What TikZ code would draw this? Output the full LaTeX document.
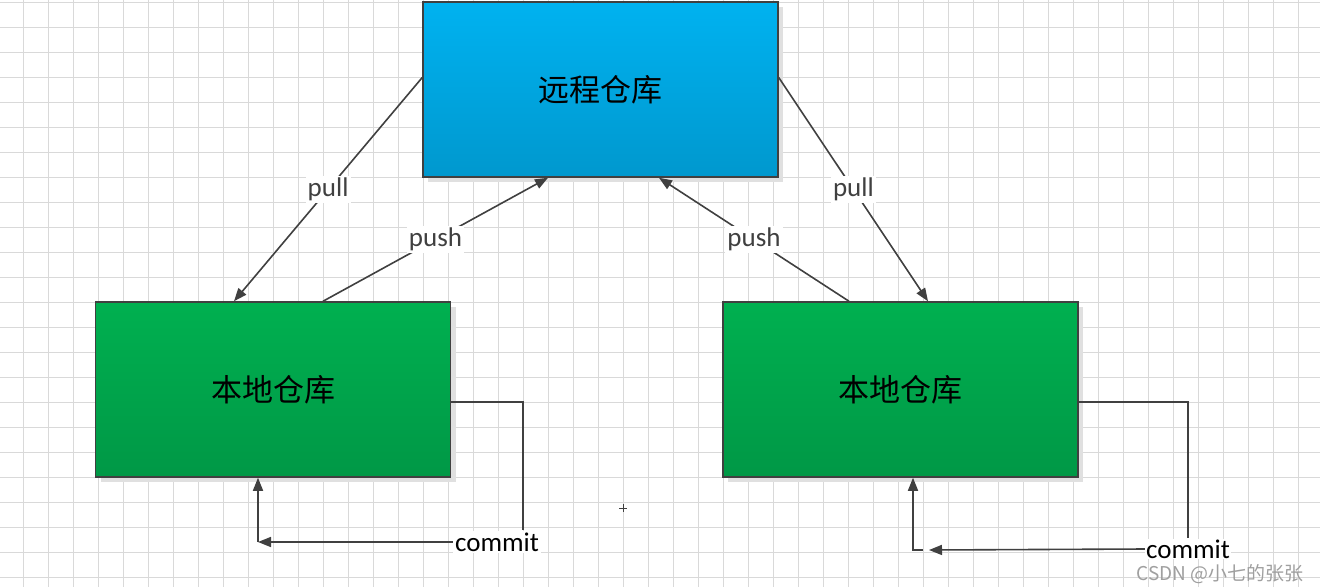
\documentclass[tikz,border=0pt]{standalone}
\usepackage{fontspec}
\setmainfont{Carlito}
\newfontfamily\cjk{Noto Sans CJK SC}
\usetikzlibrary{arrows.meta, shadows}
\definecolor{linegray}{RGB}{64,64,64}
\definecolor{gridgray}{RGB}{217,217,217}
\definecolor{skytop}{RGB}{0,178,240}
\definecolor{skybot}{RGB}{0,152,206}
\definecolor{leaftop}{RGB}{0,176,80}
\definecolor{leafbot}{RGB}{0,152,70}

\begin{document}
\begin{tikzpicture}[x=1pt, y=-1pt,
	gridline/.style={gridgray, line width=1pt},
	repo/.style={draw=linegray, line width=1.5pt, minimum width=355pt, minimum height=175pt, inner sep=0pt,
		font=\cjk\fontsize{31}{31}\selectfont,
		drop shadow={fill=black!12, opacity=1, shadow xshift=5pt, shadow yshift=-5pt}},
	link/.style={linegray, line width=1.6pt},
	tip/.style={link, -{Triangle[length=13pt, width=10pt]}},
	tag/.style={fill=white, inner sep=2pt, font=\fontsize{27}{27}\selectfont}]
	\useasboundingbox				(0,0) rectangle (1320,587);
	\fill[white]					(0,0) rectangle (1320,587);
	\foreach \gx in {23,48,...,1318}
		\draw[gridline]				(\gx,0) -- (\gx,587);
	\foreach \gy in {2,27,...,577}
		\draw[gridline]				(0,\gy) -- (1320,\gy);
	\draw[linegray, line width=1pt]	(619,508) -- (627,508) (623,504) -- (623,512);

	\node[repo, top color=skytop, bottom color=skybot]	(remote) at (600.5,89.5) {远程仓库};
	\node[repo, top color=leaftop, bottom color=leafbot]	(localA) at (273,389.5) {本地仓库};
	\node[repo, top color=leaftop, bottom color=leafbot]	(localB) at (900.5,389.5) {本地仓库};

	\draw[tip]	([yshift=12pt]remote.west) -- node[tag] {pull} ([xshift=-39pt]localA.north);
	\draw[tip]	([xshift=50pt]localA.north) -- node[tag] {push} ([xshift=-52.5pt]remote.south);
	\draw[tip]	([xshift=-51.5pt]localB.north) -- node[tag] {push} ([xshift=58.5pt]remote.south);
	\draw[tip]	([yshift=12pt]remote.east) -- node[tag] {pull} ([xshift=27.5pt]localB.north);

	\node[tag]				(commitA) at (497,542) {commit};
	\node[tag, inner sep=1pt]	(commitB) at (1188,549) {commit};
	\coordinate		(cornerA) at (258,542);
	\coordinate		(cornerB) at (913,550);
	\draw[link]	([yshift=-12.5pt]localA.east) -| ([xshift=26pt]commitA.north);
	\draw[tip]	(commitA.west) -- (cornerA);
	\draw[tip]	(cornerA) -- (cornerA |- localA.south);
	\draw[link]	([yshift=-12.5pt]localB.east) -| (commitB.north);
	\draw[tip]	(commitB.west) -- ([xshift=16pt]cornerB);
	\draw[tip]	([xshift=10pt]cornerB) -- (cornerB) -- (cornerB |- localB.south);

	\node[anchor=east, text=gray!75, inner sep=0pt, font=\cjk\fontsize{19}{19}\selectfont]	(mark) at (1304,574) {CSDN @小七的张张};
\end{tikzpicture}
\end{document}
